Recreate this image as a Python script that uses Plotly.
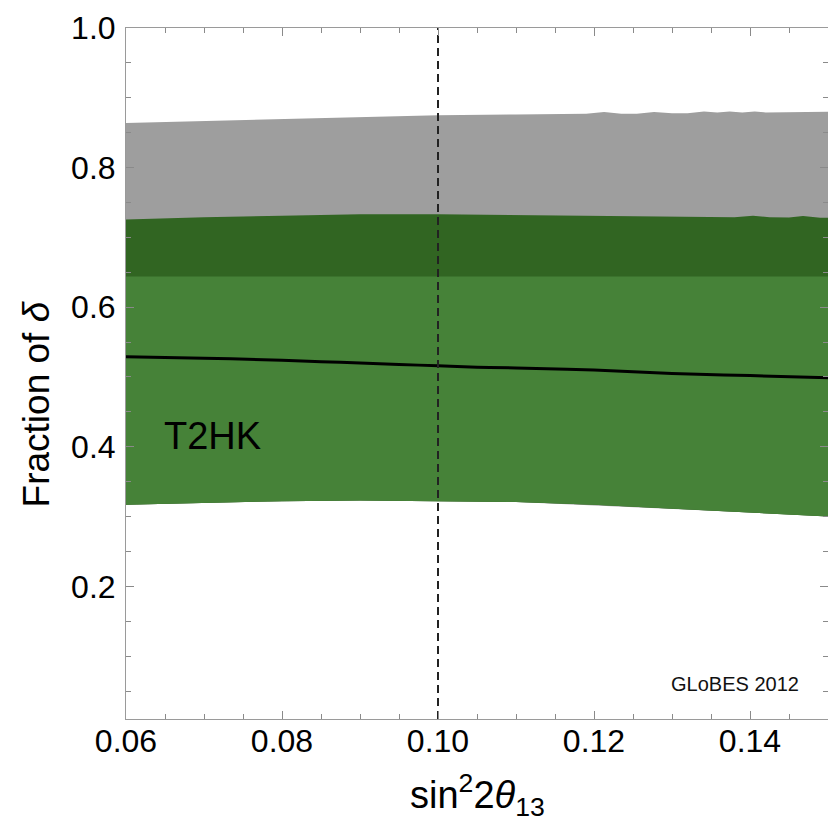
import plotly.graph_objects as go

# sin^2(2 theta_13) grid for the band edges
x_grid = [0.060, 0.070, 0.080, 0.090, 0.100, 0.110, 0.120, 0.130, 0.140, 0.150]

# upper edge of the grey band (with the small numerical ripples near the right end)
x_grey = [0.060, 0.070, 0.080, 0.090, 0.100, 0.110, 0.119, 0.1213, 0.1235, 0.1255,
          0.1277, 0.130, 0.132, 0.1341, 0.1358, 0.1374, 0.139, 0.1406, 0.142, 0.150]
grey_upper = [0.864, 0.867, 0.870, 0.873, 0.875, 0.876, 0.877, 0.8795, 0.877, 0.877,
              0.8795, 0.878, 0.878, 0.8805, 0.879, 0.8805, 0.879, 0.8805, 0.879, 0.880]

# upper edge of the dark green band
x_dark = [0.060, 0.070, 0.080, 0.090, 0.100, 0.110, 0.120, 0.130, 0.138, 0.1404,
          0.1425, 0.145, 0.1468, 0.149, 0.150]
dark_upper = [0.7255, 0.729, 0.731, 0.733, 0.733, 0.732, 0.731, 0.730, 0.729, 0.731,
              0.729, 0.7285, 0.7305, 0.728, 0.728]

# upper edge of the light green band
light_upper = [0.644, 0.644, 0.644, 0.644, 0.645, 0.645, 0.644, 0.644, 0.644, 0.644]

# common lower edge of the bands
band_lower = [0.317, 0.320, 0.322, 0.323, 0.322, 0.321, 0.317, 0.311, 0.306, 0.300]

# central curve
x_line = [0.060, 0.070, 0.080, 0.085, 0.090, 0.095, 0.100, 0.105, 0.110, 0.120,
          0.130, 0.140, 0.150]
line_y = [0.529, 0.527, 0.524, 0.522, 0.520, 0.518, 0.516, 0.514, 0.513, 0.510,
          0.505, 0.502, 0.499]

x_ticks = [0.06, 0.08, 0.10, 0.12, 0.14]
y_ticks = [0.2, 0.4, 0.6, 0.8, 1.0]
x_ref = 0.10

GREY = "#9e9e9e"
DARK = "#316522"
LIGHT = "#468238"
FONT = "Liberation Sans, Arial, Helvetica, sans-serif"


def band(xs, upper, color):
    return go.Scatter(
        x=list(xs) + x_grid[::-1],
        y=list(upper) + band_lower[::-1],
        fill="toself", fillcolor=color, mode="lines",
        line=dict(width=0, color=color), hoverinfo="skip", showlegend=False,
    )


fig = go.Figure()
fig.add_trace(band(x_grey, grey_upper, GREY))
fig.add_trace(band(x_dark, dark_upper, DARK))
fig.add_trace(band(x_grid, light_upper, LIGHT))
fig.add_trace(go.Scatter(x=x_line, y=line_y, mode="lines", line_shape="spline",
                         line=dict(color="black", width=3), showlegend=False))
fig.add_trace(go.Scatter(x=[x_ref, x_ref], y=[0.01, 1.0], mode="lines",
                         line=dict(color="#222222", width=2, dash="8px,5px"),
                         showlegend=False))

axis_common = dict(
    showgrid=False, zeroline=False, showline=True, linecolor="#9a9a9a", linewidth=1,
    mirror="allticks", ticks="inside", ticklen=8, tickwidth=1, tickcolor="#8a8a8a",
    tickfont=dict(family=FONT, size=32, color="black"),
)

fig.update_xaxes(
    range=[0.06, 0.15], tickvals=x_ticks, tickformat=".2f",
    minor=dict(dtick=0.005, tick0=0.06, ticks="inside", ticklen=5, tickcolor="#8a8a8a"),
    ticklabelstandoff=-6, **axis_common,
)
fig.update_yaxes(
    range=[0.01, 1.0], tickvals=y_ticks, tickformat=".1f",
    minor=dict(dtick=0.05, tick0=0.0, ticks="inside", ticklen=5, tickcolor="#8a8a8a"),
    ticklabelstandoff=3, **axis_common,
)

fig.add_annotation(x=0.0711, y=0.415, xref="x", yref="y", text="T2HK",
                   showarrow=False, font=dict(family=FONT, size=38, color="black"))
fig.add_annotation(x=0.1465, y=0.060, xref="x", yref="y", text="GLoBES 2012",
                   showarrow=False, xanchor="right",
                   font=dict(family=FONT, size=20, color="#111111"))
fig.add_annotation(x=0.5, y=-0.11, xref="paper", yref="paper",
                   xanchor="center", yanchor="middle",
                   text="sin<sup>2</sup>2<i>θ</i><sub>13</sub>", showarrow=False,
                   font=dict(family=FONT, size=38, color="black"))
fig.add_annotation(x=-0.127, y=0.455, xref="paper", yref="paper",
                   xanchor="center", yanchor="middle",
                   text="Fraction of <i>δ</i>", showarrow=False, textangle=-90,
                   font=dict(family=FONT, size=37, color="black"))

fig.update_layout(
    width=828, height=831,
    margin=dict(l=126, r=0, t=28, b=112),
    plot_bgcolor="white", paper_bgcolor="white",
)

fig.write_html("out.html")
